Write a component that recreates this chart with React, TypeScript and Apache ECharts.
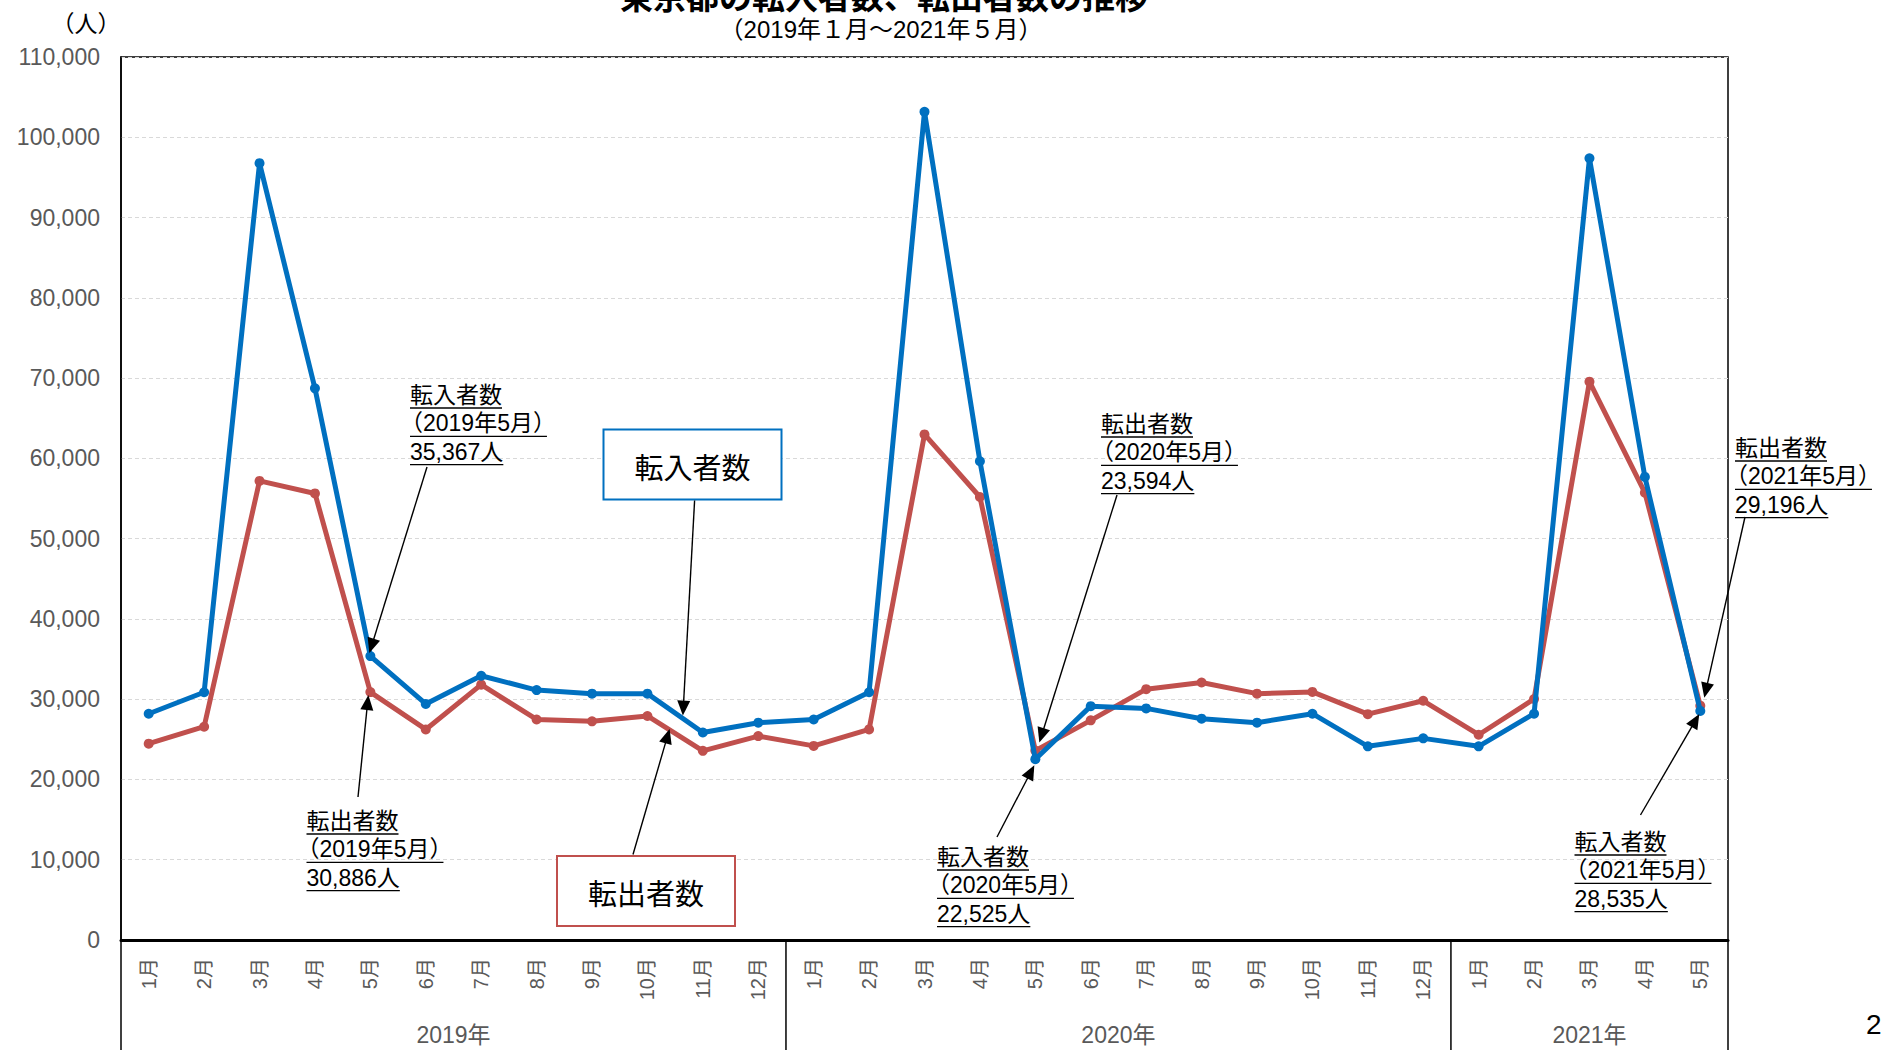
import React, { useEffect, useRef } from "react";
import * as echarts from "echarts";

// ---------- data ----------
const categories = [
  "2019-01", "2019-02", "2019-03", "2019-04", "2019-05", "2019-06", "2019-07", "2019-08", "2019-09", "2019-10", "2019-11", "2019-12",
  "2020-01", "2020-02", "2020-03", "2020-04", "2020-05", "2020-06", "2020-07", "2020-08", "2020-09", "2020-10", "2020-11", "2020-12",
  "2021-01", "2021-02", "2021-03", "2021-04", "2021-05",
];
const monthTickLabels = [
  "1月", "2月", "3月", "4月", "5月", "6月", "7月", "8月", "9月", "10月", "11月", "12月",
  "1月", "2月", "3月", "4月", "5月", "6月", "7月", "8月", "9月", "10月", "11月", "12月",
  "1月", "2月", "3月", "4月", "5月",
];
const yearLabels = ["2019年", "2020年", "2021年"];
const yearGroupSizes = [12, 12, 5];

// 転入者数 (in-migrants)
const tennyu = [
  28190, 30860, 96770, 68720, 35367, 29410, 32920, 31130, 30690, 30690, 25850, 27070,
  27470, 30860, 103170, 59640, 22525, 29130, 28850, 27570, 27070, 28190, 24130, 25120,
  24130, 28190, 97380, 57690, 28535,
];
// 転出者数 (out-migrants)
const tenshutsu = [
  24460, 26570, 57190, 55630, 30886, 26230, 31810, 27470, 27240, 27910, 23570, 25400,
  24180, 26230, 62980, 55190, 23594, 27360, 31250, 32080, 30690, 30910, 28130, 29800,
  25570, 30020, 69550, 55730, 29196,
];
const yMin = 0;
const yMax = 110000;
const yInterval = 10000;

const seriesNames = ["転出者数", "転入者数"];
const title = "東京都の転入者数、転出者数の推移";
const subtitle = "（2019年１月～2021年５月）";
const unitLabel = "（人）";
const pageNumber = "2";

const BLUE = "#0070C0";
const RED = "#C0504D";
const GRAY = "#595959";
const CJK = "'Noto Sans CJK JP'";
const LAT = "'Liberation Sans', 'Noto Sans CJK JP'";

const fmt = (v: number) => v.toLocaleString("en-US");

export default function App() {
  const ref = useRef<HTMLDivElement>(null);

  useEffect(() => {
    if (!ref.current) return;
    const chart = echarts.init(ref.current, null, { renderer: "svg" });

    chart.setOption({
      animation: false,
      backgroundColor: "#fff",
      grid: {
        left: 121,
        right: 153,
        top: 57,
        bottom: 110,
        containLabel: false,
        outerBoundsMode: "none",
        show: true,
        borderColor: "#000",
        borderWidth: 1.5,
        backgroundColor: "transparent",
      },
      xAxis: {
        type: "category",
        data: categories,
        boundaryGap: true,
        axisLine: { show: true, lineStyle: { color: "#000", width: 3 } },
        axisTick: { show: false },
        splitLine: { show: false },
        axisLabel: {
          interval: 0,
          rotate: 90,
          margin: 18,
          color: GRAY,
          fontSize: 20,
          fontFamily: LAT,
          formatter: (_v: string, i: number) => monthTickLabels[i],
        },
      },
      yAxis: {
        type: "value",
        min: yMin,
        max: yMax,
        interval: yInterval,
        axisLine: { show: true, lineStyle: { color: "#000", width: 1.5 } },
        axisTick: { show: false },
        splitLine: { show: true, lineStyle: { color: "#d9d9d9", type: [4, 3], width: 1 } },
        axisLabel: {
          margin: 21,
          color: GRAY,
          fontSize: 23,
          fontFamily: LAT,
          formatter: (v: number) => fmt(v),
        },
      },
      series: [
        {
          name: seriesNames[0],
          type: "line",
          data: tenshutsu,
          symbol: "circle",
          symbolSize: 10,
          lineStyle: { color: RED, width: 5 },
          itemStyle: { color: RED },
          z: 2,
        },
        {
          name: seriesNames[1],
          type: "line",
          data: tennyu,
          symbol: "circle",
          symbolSize: 10,
          lineStyle: { color: BLUE, width: 5 },
          itemStyle: { color: BLUE },
          z: 3,
        },
      ],
    });

    const seriesData = [tenshutsu, tennyu];
    const pt = (s: number, i: number): number[] =>
      chart.convertToPixel({ gridIndex: 0 }, [i, seriesData[s][i]]) as number[];
    const catX = (i: number): number =>
      (chart.convertToPixel({ gridIndex: 0 }, [i, 0]) as number[])[0];
    const y0 = (chart.convertToPixel({ gridIndex: 0 }, [0, yMin]) as number[])[1];
    const step = catX(1) - catX(0);
    const gridLeft = catX(0) - step / 2;

    const canvas = document.createElement("canvas");
    const ctx = canvas.getContext("2d")!;
    const measure = (s: string, font: string) => {
      ctx.font = font;
      return ctx.measureText(s).width;
    };

    const els: any[] = [];
    const addText = (
      x: number, y: number, s: string, font: string,
      align: string = "left", color: string = "#000"
    ) => {
      els.push({
        type: "text",
        x, y, z: 100,
        style: {
          text: s, font, fill: color,
          align, verticalAlign: "middle",
          textAlign: align, textVerticalAlign: "middle",
        },
      });
    };
    const addLine = (x1: number, y1: number, x2: number, y2: number, w: number, color = "#000") => {
      els.push({
        type: "line", z: 90,
        shape: { x1, y1, x2, y2 },
        style: { stroke: color, lineWidth: w },
      });
    };
    const addArrow = (sx: number, sy: number, tx: number, ty: number) => {
      const dx = tx - sx, dy = ty - sy;
      const len = Math.sqrt(dx * dx + dy * dy);
      const ux = dx / len, uy = dy / len;
      const L = 15, W = 6.5;
      const bx = tx - ux * L, by = ty - uy * L;
      addLine(sx, sy, bx + ux * 2, by + uy * 2, 1.4);
      els.push({
        type: "polygon", z: 95,
        shape: { points: [[tx, ty], [bx - uy * W, by + ux * W], [bx + uy * W, by - ux * W]] },
        style: { fill: "#000" },
      });
    };

    // titles
    addText(884, -5, title, `bold 33px ${CJK}`, "center");
    addText(881, 29, subtitle, `24px ${LAT}`, "center");
    addText(86, 22, unitLabel, `23px ${CJK}`, "center");
    addText(1866, 1024, pageNumber, `28px ${LAT}`, "left");

    // year grouping under the axis
    let start = 0;
    const bounds: number[] = [gridLeft];
    yearGroupSizes.forEach((n, gi) => {
      const end = start + n - 1;
      const left = catX(start) - step / 2;
      const right = catX(end) + step / 2;
      bounds.push(right);
      addText((left + right) / 2, 1035, yearLabels[gi], `23px ${LAT}`, "center", GRAY);
      start += n;
    });
    bounds.forEach((bx) => addLine(bx, y0, bx, 1052, 1.5));

    // annotation labels with underlines
    const annFont = `23px ${LAT}`;
    const lineGap = 28.3;
    const parenShift = 10;
    const annotations = [
      { s: 1, i: 4, x: 410, y: 395, from: [427, 467], off: [-1, -3], period: "（2019年5月）" },
      { s: 0, i: 4, x: 306.5, y: 821, from: [358, 797], off: [-2, 3], period: "（2019年5月）" },
      { s: 0, i: 16, x: 1101, y: 424, from: [1117, 495], off: [4, -8], period: "（2020年5月）" },
      { s: 1, i: 16, x: 937, y: 857, from: [997, 837], off: [-1, 6], period: "（2020年5月）" },
      { s: 0, i: 28, x: 1735, y: 448, from: [1745, 517], off: [4, -8], period: "（2021年5月）" },
      { s: 1, i: 28, x: 1574.5, y: 842, from: [1640.5, 815], off: [-1, 3], period: "（2021年5月）" },
    ];
    annotations.forEach((a) => {
      const lines = [seriesNames[a.s], a.period, fmt(seriesData[a.s][a.i]) + "人"];
      lines.forEach((ln, k) => {
        const ly = a.y + k * lineGap;
        if (k === 1) {
          addText(a.x - parenShift, ly, ln, annFont, "left");
          const w = measure(ln, annFont);
          addLine(a.x, ly + 13, a.x - parenShift + w - 9, ly + 13, 1.3);
        } else {
          addText(a.x, ly, ln, annFont, "left");
          const w = measure(ln, annFont);
          addLine(a.x, ly + 13, a.x + w, ly + 13, 1.3);
        }
      });
      const p = pt(a.s, a.i);
      addArrow(a.from[0], a.from[1], p[0] + a.off[0], p[1] + a.off[1]);
    });

    // legend-like boxes with arrows to the lines
    const boxes = [
      { s: 1, x: 603.5, y: 429.5, color: BLUE, i: 9, j: 10, t: 0.64, dy: -3, from: [694.6, 500.5] },
      { s: 0, x: 557, y: 856, color: RED, i: 9, j: 10, t: 0.4, dy: -1, from: [633, 854.5] },
    ];
    boxes.forEach((b) => {
      els.push({
        type: "rect", z: 80,
        shape: { x: b.x, y: b.y, width: 178, height: 70 },
        style: { fill: "#fff", stroke: b.color, lineWidth: 2 },
      });
      addText(b.x + 89, b.y + 36, seriesNames[b.s], `29px ${CJK}`, "center");
      const p1 = pt(b.s, b.i);
      const p2 = pt(b.s, b.j);
      const tx = p1[0] + (p2[0] - p1[0]) * b.t;
      const ty = p1[1] + (p2[1] - p1[1]) * b.t + b.dy;
      addArrow(b.from[0], b.from[1], tx, ty);
    });

    chart.setOption({ graphic: { elements: els } });

    return () => chart.dispose();
  }, []);

  return (
    <div
      ref={ref}
      style={{ position: "absolute", left: 0, top: 0, width: 1881, height: 1050, overflow: "hidden" }}
    />
  );
}
